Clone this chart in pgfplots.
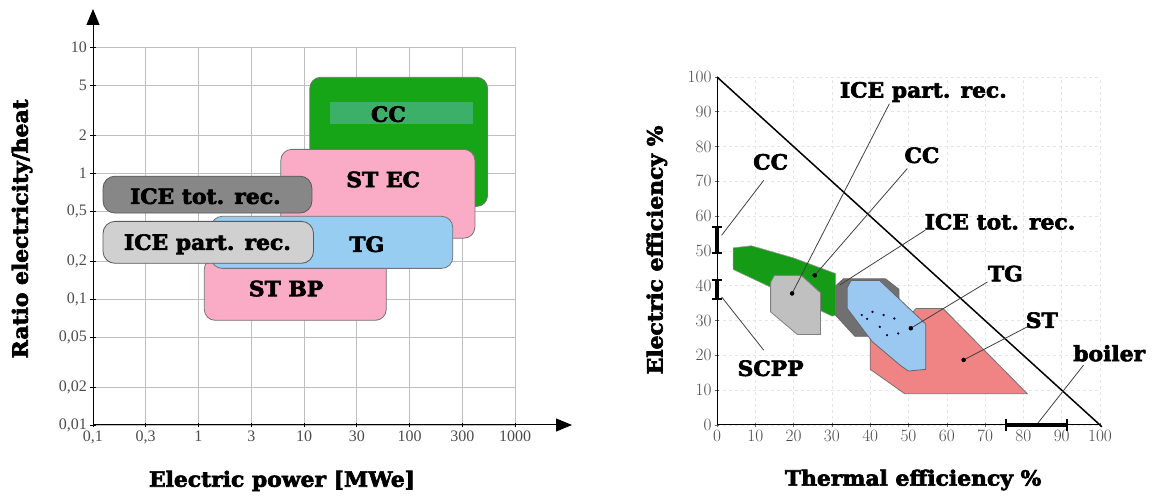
\documentclass[border=0pt]{standalone}
\usepackage{fontspec}
\setmainfont{Liberation Serif}
\newfontfamily\lab{DejaVu Serif}[FakeStretch=1.04, BoldFeatures={FakeBold=3}]
\usepackage{pgfplots}
\pgfplotsset{compat=1.18}
\usetikzlibrary{arrows.meta}
\definecolor{ccgreen}{RGB}{22,165,22}
\definecolor{ccband}{RGB}{60,175,105}
\definecolor{stpink}{RGB}{250,172,198}
\definecolor{tgblue}{RGB}{150,205,240}
\definecolor{icedark}{RGB}{135,135,135}
\definecolor{icelight}{RGB}{208,208,208}
\definecolor{stsalmon}{RGB}{240,132,132}
\definecolor{rgreen}{RGB}{22,155,22}
\definecolor{rdark}{RGB}{112,112,112}
\definecolor{rlight}{RGB}{192,192,192}
\definecolor{rblue}{RGB}{155,200,240}
\newcommand{\lbl}{\lab\bfseries\fontsize{21}{21}\selectfont}
\begin{document}
\begin{tikzpicture}
\useasboundingbox (0,0) rectangle (1152pt,497pt);
% ---------------- left chart ----------------
\begin{axis}[
  at={(93pt,72pt)}, anchor=south west,
  width=422pt, height=378pt, scale only axis,
  xmin=0, xmax=8, ymode=log, ymin=0.01, ymax=10,
  clip=false,
  axis x line*=bottom, axis y line*=left,
  x axis line style={-{Triangle[length=16pt,width=13pt]}, shorten >=-57pt, line width=1pt},
  y axis line style={-{Triangle[length=16pt,width=13pt]}, shorten >=-38pt, line width=1pt},
  xtick={0,1,2,3,4,5,6,7,8},
  xticklabels={0{,}1,0{,}3,1,3,10,30,100,300,1000},
  ytick={0.01,0.02,0.05,0.1,0.2,0.5,1,2,5,10},
  yticklabels={0{,}01,0{,}02,0{,}05,0{,}1,0{,}2,0{,}5,1,2,5,10},
  minor ytick={},
  grid=major, major grid style={black!25, line width=0.8pt},
  tick align=center, major tick length=5pt,
  tick style={black, line width=0.8pt},
  tick label style={font=\fontsize{16}{16}\selectfont, text=black!70},
  xlabel={\lbl Electric power [MWe]},
  xlabel style={at={(axis description cs:0.448,-0.148)}, anchor=center},
  ylabel={\lbl Ratio electricity/heat},
  ylabel style={at={(axis description cs:-0.168,0.519)}, anchor=center},
]
% CC
\addplot[fill=ccgreen, draw=black!55, line width=0.8pt, rounded corners=11pt]
  coordinates {(5.8,0.543) (7.48,0.543) (7.48,5.75) (4.11,5.75) (4.11,0.543)} -- cycle;
\addplot[fill=ccband, draw=none]
  coordinates {(4.49,2.44) (7.2,2.44) (7.2,3.64) (4.49,3.64)} -- cycle;
% ST EC
\addplot[fill=stpink, draw=black!55, line width=0.8pt, rounded corners=11pt]
  coordinates {(5.4,0.304) (7.24,0.304) (7.24,1.54) (3.56,1.54) (3.56,0.304)} -- cycle;
% ST BP
\addplot[fill=stpink, draw=black!55, line width=0.8pt, rounded corners=11pt]
  coordinates {(3.8,0.0677) (5.56,0.0677) (5.56,0.21) (2.11,0.21) (2.11,0.0677)} -- cycle;
% TG
\addplot[fill=tgblue, draw=black!55, line width=0.8pt, rounded corners=11pt]
  coordinates {(4.5,0.175) (6.82,0.175) (6.82,0.453) (2.24,0.453) (2.24,0.175)} -- cycle;
% ICE tot. rec.
\addplot[fill=icedark, draw=black!65, line width=0.8pt, rounded corners=12pt]
  coordinates {(2.2,0.481) (4.15,0.481) (4.15,0.944) (0.19,0.944) (0.19,0.481)} -- cycle;
% ICE part. rec.
\addplot[fill=icelight, draw=black!65, line width=0.8pt, rounded corners=12pt]
  coordinates {(2.2,0.192) (4.18,0.192) (4.18,0.413) (0.19,0.413) (0.19,0.192)} -- cycle;
\node[font=\lbl] at (axis cs:5.6,2.93) {CC};
\node[font=\lbl] at (axis cs:5.5,0.888) {ST EC};
\node[font=\lbl] at (axis cs:2.13,0.654) {ICE tot. rec.};
\node[font=\lbl] at (axis cs:5.19,0.272) {TG};
\node[font=\lbl] at (axis cs:2.17,0.272) {ICE part. rec.};
\node[font=\lbl] at (axis cs:3.66,0.121) {ST BP};
\end{axis}
% ---------------- right chart ----------------
\begin{axis}[
  at={(717pt,72pt)}, anchor=south west,
  width=383pt, height=348pt, scale only axis,
  xmin=0, xmax=100, ymin=0, ymax=100,
  clip=false,
  axis x line*=bottom, axis y line*=left,
  axis line style={line width=1pt},
  xtick={0,10,...,100}, ytick={0,10,...,100},
  grid=major, major grid style={black!10, dashed, line width=0.6pt},
  tick align=center, major tick length=4pt,
  tick style={black!60, line width=0.6pt},
  tick label style={font=\fontsize{16}{16}\selectfont, text=black!70},
  xlabel={\lbl Thermal efficiency \%},
  xlabel style={at={(axis description cs:0.512,-0.158)}, anchor=center},
  ylabel={\lbl Electric efficiency \%},
  ylabel style={at={(axis description cs:-0.157,0.503)}, anchor=center},
]
\addplot[black, line width=1.5pt] coordinates {(0,100) (100.5,-0.5)};
% CC (green)
\addplot[fill=rgreen, draw=black!40, line width=0.6pt]
  coordinates {(4.2,50.9) (9,51.5) (20,48) (31,43.5) (31,31.5) (30,31.3) (4.2,44.7)} -- cycle;
% SCPP / ICE part. rec. (light grey)
\addplot[fill=rlight, draw=black!50, line width=0.8pt]
  coordinates {(15,43) (22,43) (27,38) (27,26) (21,26) (14,32.5) (14,41)} -- cycle;
% ICE tot. rec. (dark grey)
\addplot[fill=rdark, draw=black!60, line width=0.8pt]
  coordinates {(33,42) (44,42) (47.5,39) (47.5,33) (40,25.5) (36,25.5) (31,31.5) (31,40)} -- cycle;
% ST (salmon)
\addplot[fill=stsalmon, draw=black!55, line width=0.8pt]
  coordinates {(40,25) (45,25) (52,33.5) (59,33.5) (81,9) (49,9) (40,16)} -- cycle;
% TG (blue)
\addplot[fill=rblue, draw=black!60, line width=0.8pt]
  coordinates {(35,41.5) (42.5,41.5) (54.5,29) (54.5,16) (50,15.5) (48,17) (40.5,24) (34,33.5) (34,39.5)} -- cycle;
% small dots in TG
\addplot[only marks, mark=*, mark size=0.9pt, black!70!blue]
  coordinates {(37.8,31.6) (40.6,32.5) (43.5,31.6) (46.3,30.6) (44.4,25.8) (47.3,26.3) (42.5,28.2) (39.2,30.5)};
% callout lines
\addplot[black!75, line width=0.8pt] coordinates {(45,92.3) (19.6,37.8)};
\addplot[black!75, line width=0.8pt] coordinates {(49.7,73.7) (25.5,43)};
\addplot[black!75, line width=0.8pt] coordinates {(54.4,56) (32,40.2)};
\addplot[black!75, line width=0.8pt] coordinates {(70.6,41.1) (50.6,27.8)};
\addplot[black!75, line width=0.8pt] coordinates {(81,28.2) (64.4,18.7)};
\addplot[black!75, line width=0.8pt] coordinates {(95.7,17.2) (83.4,0)};
\addplot[black!75, line width=0.8pt] coordinates {(12.2,70.3) (1.2,54.5)};
\addplot[black!75, line width=0.8pt] coordinates {(12.2,21.5) (1.2,36.8)};
\addplot[only marks, mark=*, mark size=2pt, black]
  coordinates {(19.6,37.8) (25.5,43) (50.6,27.8) (64.4,18.7)};
% range bars on the axes (CC and SCPP electric efficiency, boiler thermal efficiency)
\addplot[black, line width=4pt, line cap=butt] coordinates {(0,49.5) (0,57)};
\addplot[black, line width=2pt] coordinates {(-1.4,57) (1.4,57)};
\addplot[black, line width=2pt] coordinates {(-1.4,49.5) (1.4,49.5)};
\addplot[black, line width=4pt, line cap=butt] coordinates {(0,36.2) (0,41.8)};
\addplot[black, line width=2pt] coordinates {(-1.4,41.8) (1.4,41.8)};
\addplot[black, line width=2pt] coordinates {(-1.4,36.2) (1.4,36.2)};
\addplot[black, line width=3.5pt, line cap=butt] coordinates {(75.5,0) (91.5,0)};
\addplot[black, line width=2pt] coordinates {(75.5,-1.7) (75.5,1.7)};
\addplot[black, line width=2pt] coordinates {(91.5,-1.7) (91.5,1.7)};
\node[font=\lbl] at (axis cs:53.9,95.7) {ICE part. rec.};
\node[font=\lbl] at (axis cs:53.5,77.5) {CC};
\node[font=\lbl] at (axis cs:73.9,58.4) {ICE tot. rec.};
\node[font=\lbl] at (axis cs:75.3,43.5) {TG};
\node[font=\lbl] at (axis cs:84.8,30.1) {ST};
\node[font=\lbl] at (axis cs:102.4,20.6) {boiler};
\node[font=\lbl] at (axis cs:14,75.6) {CC};
\node[font=\lbl] at (axis cs:14,16.3) {SCPP};
\end{axis}
\end{tikzpicture}
\end{document}
